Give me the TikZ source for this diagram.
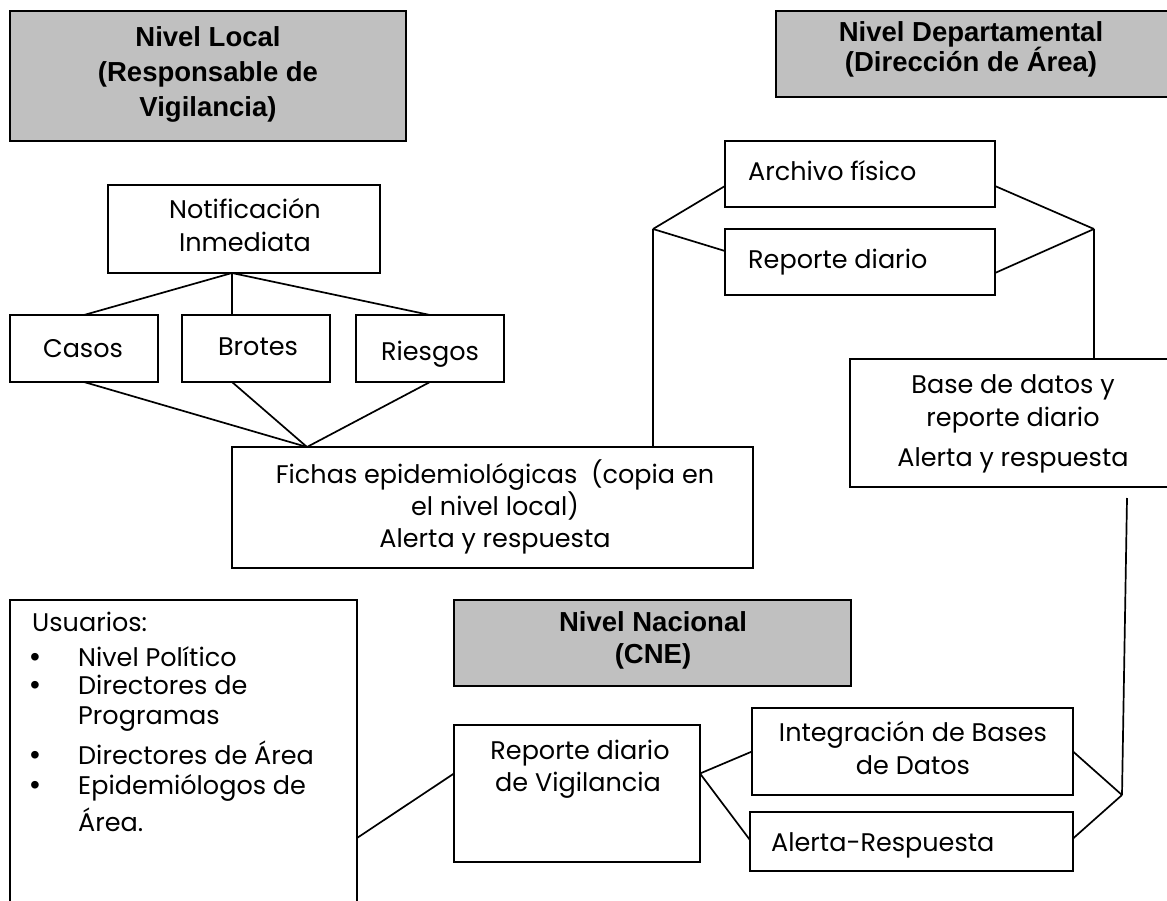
\documentclass[tikz,border=0pt]{standalone}
\usepackage{fontspec}
\setmainfont{Poppins}
\newfontfamily\hdrfont{Liberation Sans}
\definecolor{hdrgray}{HTML}{C0C0C0}
\begin{document}
\begin{tikzpicture}[x=1pt,y=-1pt,
  box/.style={draw, line width=2pt, rectangle, inner sep=0pt, outer sep=0pt},
  hbox/.style={box, fill=hdrgray},
  conn/.style={line width=1.7pt},
  btxt/.style={inner sep=0pt, anchor=mid, yshift=-4pt, font=\fontsize{25.5}{30}\selectfont},
  btxtl/.style={btxt, anchor=mid west},
  bul/.style={inner sep=0pt, anchor=mid, yshift=-4pt, font=\hdrfont\fontsize{28}{30}\selectfont},
  htxt/.style={inner sep=0pt, anchor=mid, yshift=-5pt, font=\hdrfont\bfseries\fontsize{27.5}{32}\selectfont}]
\useasboundingbox (0,0) rectangle (1167,900);
\clip (0,0) rectangle (1167,900);

% header boxes
\node[hbox, minimum width=396pt, minimum height=130pt] (nlocal) at (208,76) {};
\node[htxt] (nlocal1) at (208,39) {Nivel Local};
\node[htxt] (nlocal2) at (208,74) {(Responsable de};
\node[htxt] (nlocal3) at (208,109) {Vigilancia)};

\node[hbox, minimum width=409pt, minimum height=86pt] (ndep) at (980.5,54) {};
\node[htxt] (ndep1) at (971,34) {Nivel Departamental};
\node[htxt] (ndep2) at (971,64) {(Dirección de Área)};

\node[hbox, minimum width=397pt, minimum height=86pt] (nnac) at (652.5,643) {};
\node[htxt] (nnac1) at (653,624) {Nivel Nacional};
\node[htxt] (nnac2) at (653,656) {(CNE)};

% local level
\node[box, minimum width=272pt, minimum height=88pt] (notif) at (244,229) {};
\node[btxt] (notif1) at (245,212) {Notificación};
\node[btxt] (notif2) at (245,245) {Inmediata};

\node[box, minimum width=148pt, minimum height=67pt] (casos) at (84,348.5) {};
\node[btxt] (casost) at (83,351) {Casos};
\node[box, minimum width=148pt, minimum height=67pt] (brotes) at (256,348.5) {};
\node[btxt] (brotest) at (258,349) {Brotes};
\node[box, minimum width=148pt, minimum height=67pt] (riesgos) at (430,348.5) {};
\node[btxt] (riesgost) at (430,354) {Riesgos};

\node[box, minimum width=521pt, minimum height=121pt] (fichas) at (492.5,507.5) {};
\node[btxt] (fichas1) at (495,477) {Fichas epidemiológicas\ \ (copia en};
\node[btxt] (fichas2) at (495,509) {el nivel local)};
\node[btxt] (fichas3) at (495,541) {Alerta y respuesta};

% departmental level
\node[box, minimum width=270pt, minimum height=66pt] (archivo) at (860,174) {};
\node[btxtl] (archivot) at (748,174) {Archivo físico};
\node[box, minimum width=270pt, minimum height=66pt] (repdep) at (860,262) {};
\node[btxtl] (repdept) at (748,262) {Reporte diario};

\node[box, minimum width=330pt, minimum height=128pt] (base) at (1015,423) {};
\node[btxt] (base1) at (1013,387) {Base de datos y};
\node[btxt] (base2) at (1013,420) {reporte diario};
\node[btxt] (base3) at (1013,460) {Alerta y respuesta};

% users
\node[box, minimum width=347pt, minimum height=330pt] (usu) at (183.5,765) {};
\node[btxtl] (usu0) at (32,625) {Usuarios:};
\node[bul] (b1) at (35,660) {•};
\node[btxtl] (usu1) at (78,660) {Nivel Político};
\node[bul] (b2) at (35,688) {•};
\node[btxtl] (usu2) at (78,688) {Directores de};
\node[btxtl] (usu3) at (78,718) {Programas};
\node[bul] (b3) at (35,758) {•};
\node[btxtl] (usu4) at (78,758) {Directores de Área};
\node[bul] (b4) at (35,788) {•};
\node[btxtl] (usu5) at (78,788) {Epidemiólogos de};
\node[btxtl] (usu6) at (78,825) {Área.};

% national level
\node[box, minimum width=246pt, minimum height=137pt] (rdv) at (577,793.5) {};
\node[btxt] (rdv1) at (580,753) {Reporte diario};
\node[btxt] (rdv2) at (578,785) {de Vigilancia};

\node[box, minimum width=321pt, minimum height=87pt] (integ) at (912.5,751.5) {};
\node[btxt] (integ1) at (913,735) {Integración de Bases};
\node[btxt] (integ2) at (913,768) {de Datos};
\node[box, minimum width=323pt, minimum height=59pt] (alerta) at (911.5,841.5) {};
\node[btxtl] (alertat) at (771,845) {Alerta-Respuesta};

% junctions
\coordinate (nj) at (232,273);
\coordinate (fj) at (307,447);
\coordinate (lj) at (653,229);
\coordinate (rj) at (1094,229);
\coordinate (vt) at (1127,498);
\coordinate (cj) at (1122,795);
\coordinate (rdvj) at ([yshift=20pt]rdv.east);

% connectors
\draw[conn] (nj) -- (casos.north);
\draw[conn] (nj) -- (brotes.north -| nj);
\draw[conn] (nj) -- (riesgos.north);
\draw[conn] (casos.south) -- (fj);
\draw[conn] (brotes.south -| nj) -- (fj);
\draw[conn] (riesgos.south) -- (fj);

\draw[conn] (fichas.north -| lj) -- (lj);
\draw[conn] (lj) -- ([yshift=-12pt]archivo.west);
\draw[conn] (lj) -- ([yshift=11pt]repdep.west);
\draw[conn] ([yshift=-12pt]archivo.east) -- (rj);
\draw[conn] ([yshift=-11pt]repdep.east) -- (rj);
\draw[conn] (rj) -- (base.north -| rj);

\draw[conn] (vt) -- (cj);
\draw[conn] (integ.east) -- (cj);
\draw[conn] ([yshift=3pt]alerta.east) -- (cj);
\draw[conn] (rdvj) -- (integ.west);
\draw[conn] (rdvj) -- ([yshift=1.5pt]alerta.west);
\draw[conn] ([yshift=-73pt]usu.east) -- ([yshift=20pt]rdv.west);
\end{tikzpicture}
\end{document}
